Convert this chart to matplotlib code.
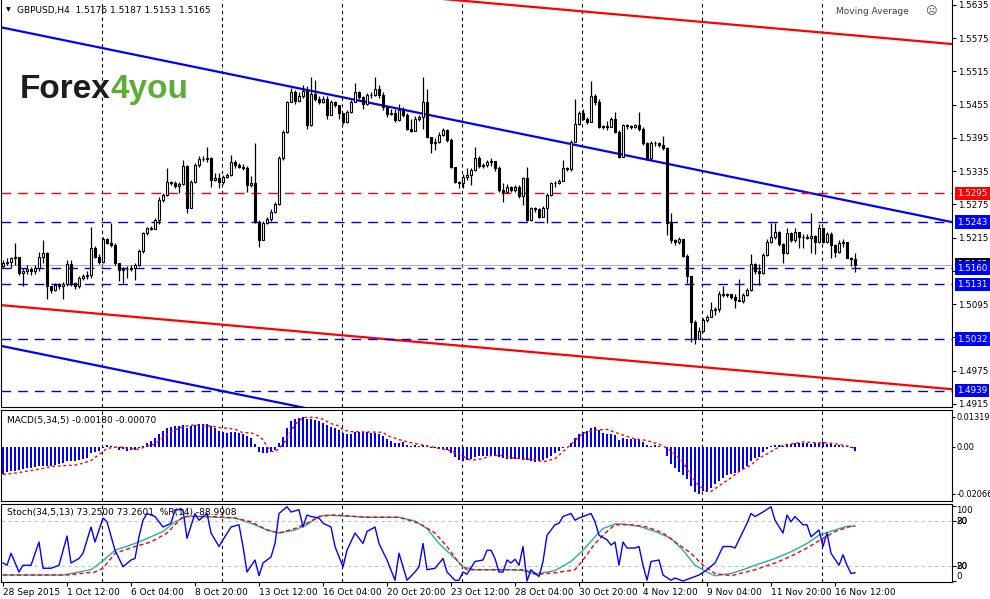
import numpy as np
import matplotlib.pyplot as plt
import matplotlib.transforms as mtransforms

plt.rcParams['font.family'] = ['DejaVu Sans']
plt.rcParams['font.size'] = 6.5

symbol_title = 'GBPUSD,H4  1.5176 1.5187 1.5153 1.5165'
macd_title = 'MACD(5,34,5) -0.00180 -0.00070'
stoch_title = 'Stoch(34,5,13) 73.2500 73.2601  %R(14) -88.9908'

# H4 candles, one per bar (open = previous close)
first_open = 1.5163
closes = [
    1.5169, 1.5172, 1.5178, 1.5181, 1.5151, 1.5154, 1.5158, 1.5155, 1.5160, 1.5180,
    1.5188, 1.5127, 1.5121, 1.5130, 1.5128, 1.5131, 1.5168, 1.5133, 1.5127, 1.5142,
    1.5145, 1.5148, 1.5197, 1.5181, 1.5172, 1.5213, 1.5206, 1.5202, 1.5169, 1.5156,
    1.5158, 1.5158, 1.5160, 1.5166, 1.5191, 1.5223, 1.5232, 1.5230, 1.5247, 1.5283,
    1.5292, 1.5316, 1.5313, 1.5308, 1.5312, 1.5345, 1.5268, 1.5316, 1.5346, 1.5357,
    1.5357, 1.5358, 1.5320, 1.5322, 1.5315, 1.5324, 1.5328, 1.5352, 1.5347, 1.5343,
    1.5341, 1.5310, 1.5313, 1.5244, 1.5211, 1.5241, 1.5248, 1.5262, 1.5276, 1.5358,
    1.5406, 1.5459, 1.5478, 1.5462, 1.5471, 1.5480, 1.5418, 1.5475, 1.5466, 1.5460,
    1.5466, 1.5436, 1.5460, 1.5455, 1.5440, 1.5423, 1.5442, 1.5460, 1.5478, 1.5469,
    1.5457, 1.5472, 1.5472, 1.5484, 1.5472, 1.5451, 1.5439, 1.5440, 1.5427, 1.5445,
    1.5437, 1.5412, 1.5408, 1.5430, 1.5433, 1.5460, 1.5397, 1.5385, 1.5388, 1.5400,
    1.5409, 1.5391, 1.5343, 1.5316, 1.5313, 1.5325, 1.5328, 1.5337, 1.5358, 1.5345,
    1.5346, 1.5352, 1.5354, 1.5340, 1.5301, 1.5298, 1.5307, 1.5301, 1.5307, 1.5290,
    1.5322, 1.5247, 1.5268, 1.5266, 1.5253, 1.5268, 1.5292, 1.5313, 1.5314, 1.5318,
    1.5340, 1.5339, 1.5388, 1.5421, 1.5440, 1.5430, 1.5423, 1.5470, 1.5460, 1.5415,
    1.5416, 1.5415, 1.5430, 1.5406, 1.5361, 1.5418, 1.5416, 1.5415, 1.5418, 1.5412,
    1.5385, 1.5359, 1.5385, 1.5386, 1.5382, 1.5376, 1.5241, 1.5211, 1.5207, 1.5213,
    1.5182, 1.5145, 1.5062, 1.5033, 1.5047, 1.5066, 1.5072, 1.5084, 1.5086, 1.5114,
    1.5111, 1.5113, 1.5108, 1.5102, 1.5100, 1.5111, 1.5120, 1.5167, 1.5155, 1.5152,
    1.5184, 1.5208, 1.5217, 1.5226, 1.5203, 1.5187, 1.5224, 1.5211, 1.5226, 1.5217,
    1.5216, 1.5214, 1.5218, 1.5208, 1.5233, 1.5208, 1.5222, 1.5202, 1.5189, 1.5205,
    1.5207, 1.5179, 1.5176, 1.5165,
]
highs = [
    1.5175, 1.5178, 1.5181, 1.5205, 1.5181, 1.5160, 1.5165, 1.5162, 1.5166, 1.5190,
    1.5211, 1.5190, 1.5128, 1.5133, 1.5133, 1.5135, 1.5175, 1.5175, 1.5135, 1.5145,
    1.5150, 1.5155, 1.5235, 1.5200, 1.5185, 1.5216, 1.5215, 1.5241, 1.5205, 1.5170,
    1.5162, 1.5163, 1.5165, 1.5170, 1.5195, 1.5226, 1.5235, 1.5236, 1.5250, 1.5288,
    1.5296, 1.5340, 1.5318, 1.5318, 1.5316, 1.5355, 1.5346, 1.5320, 1.5350, 1.5362,
    1.5362, 1.5379, 1.5360, 1.5332, 1.5332, 1.5328, 1.5332, 1.5364, 1.5356, 1.5350,
    1.5348, 1.5345, 1.5326, 1.5385, 1.5247, 1.5245, 1.5252, 1.5266, 1.5280, 1.5362,
    1.5410, 1.5462, 1.5485, 1.5482, 1.5478, 1.5490, 1.5488, 1.5505, 1.5500, 1.5470,
    1.5470, 1.5470, 1.5463, 1.5462, 1.5455, 1.5440, 1.5446, 1.5463, 1.5494, 1.5480,
    1.5470, 1.5476, 1.5478, 1.5505, 1.5490, 1.5478, 1.5452, 1.5448, 1.5448, 1.5457,
    1.5450, 1.5440, 1.5430, 1.5434, 1.5436, 1.5505, 1.5484, 1.5397, 1.5395, 1.5405,
    1.5413, 1.5412, 1.5395, 1.5343, 1.5318, 1.5330, 1.5340, 1.5341, 1.5379, 1.5362,
    1.5350, 1.5355, 1.5358, 1.5354, 1.5345, 1.5313, 1.5311, 1.5309, 1.5310, 1.5310,
    1.5325, 1.5343, 1.5270, 1.5270, 1.5268, 1.5272, 1.5296, 1.5316, 1.5318, 1.5321,
    1.5355, 1.5343, 1.5392, 1.5465, 1.5444, 1.5448, 1.5432, 1.5497, 1.5475, 1.5465,
    1.5419, 1.5425, 1.5433, 1.5442, 1.5410, 1.5421, 1.5420, 1.5419, 1.5421, 1.5442,
    1.5414, 1.5388, 1.5390, 1.5390, 1.5387, 1.5398, 1.5378, 1.5260, 1.5213, 1.5216,
    1.5213, 1.5185, 1.5145, 1.5066, 1.5053, 1.5070, 1.5076, 1.5099, 1.5090, 1.5118,
    1.5127, 1.5116, 1.5114, 1.5113, 1.5141, 1.5115, 1.5124, 1.5185, 1.5170, 1.5168,
    1.5188, 1.5212, 1.5242, 1.5242, 1.5227, 1.5205, 1.5232, 1.5226, 1.5232, 1.5226,
    1.5221, 1.5222, 1.5260, 1.5220, 1.5240, 1.5232, 1.5226, 1.5225, 1.5203, 1.5210,
    1.5212, 1.5200, 1.5180, 1.5187,
]
lows = [
    1.5160, 1.5165, 1.5160, 1.5165, 1.5148, 1.5127, 1.5150, 1.5148, 1.5150, 1.5155,
    1.5170, 1.5105, 1.5115, 1.5118, 1.5122, 1.5105, 1.5128, 1.5128, 1.5122, 1.5125,
    1.5138, 1.5140, 1.5143, 1.5178, 1.5168, 1.5170, 1.5203, 1.5198, 1.5166, 1.5136,
    1.5133, 1.5142, 1.5155, 1.5139, 1.5163, 1.5188, 1.5220, 1.5228, 1.5232, 1.5240,
    1.5280, 1.5290, 1.5310, 1.5305, 1.5295, 1.5310, 1.5259, 1.5268, 1.5314, 1.5343,
    1.5354, 1.5352, 1.5307, 1.5318, 1.5305, 1.5312, 1.5322, 1.5326, 1.5340, 1.5340,
    1.5338, 1.5298, 1.5306, 1.5242, 1.5198, 1.5210, 1.5240, 1.5246, 1.5260, 1.5274,
    1.5355, 1.5404, 1.5462, 1.5456, 1.5460, 1.5468, 1.5412, 1.5417, 1.5462, 1.5456,
    1.5458, 1.5430, 1.5438, 1.5450, 1.5430, 1.5420, 1.5422, 1.5440, 1.5460, 1.5465,
    1.5448, 1.5455, 1.5468, 1.5470, 1.5468, 1.5446, 1.5432, 1.5436, 1.5424, 1.5425,
    1.5432, 1.5410, 1.5405, 1.5410, 1.5425, 1.5412, 1.5395, 1.5367, 1.5373, 1.5385,
    1.5398, 1.5388, 1.5340, 1.5314, 1.5304, 1.5304, 1.5320, 1.5310, 1.5335, 1.5340,
    1.5340, 1.5343, 1.5345, 1.5336, 1.5298, 1.5280, 1.5296, 1.5298, 1.5298, 1.5286,
    1.5274, 1.5245, 1.5246, 1.5262, 1.5250, 1.5252, 1.5241, 1.5290, 1.5307, 1.5312,
    1.5318, 1.5335, 1.5336, 1.5387, 1.5418, 1.5428, 1.5420, 1.5423, 1.5455, 1.5413,
    1.5412, 1.5410, 1.5415, 1.5404, 1.5359, 1.5360, 1.5412, 1.5411, 1.5413, 1.5408,
    1.5383, 1.5356, 1.5356, 1.5380, 1.5378, 1.5374, 1.5220, 1.5205, 1.5202, 1.5204,
    1.5180, 1.5133, 1.5027, 1.5024, 1.5033, 1.5045, 1.5062, 1.5072, 1.5075, 1.5080,
    1.5108, 1.5108, 1.5104, 1.5088, 1.5100, 1.5097, 1.5110, 1.5118, 1.5150, 1.5130,
    1.5150, 1.5182, 1.5205, 1.5213, 1.5200, 1.5170, 1.5185, 1.5208, 1.5208, 1.5196,
    1.5196, 1.5212, 1.5187, 1.5185, 1.5206, 1.5205, 1.5206, 1.5178, 1.5180, 1.5188,
    1.5198, 1.5178, 1.5163, 1.5153,
]

# horizontal levels and trend lines (bar, price anchors)
level_prices = [1.5295, 1.5243, 1.5160, 1.5131, 1.5032, 1.4939]
level_colors = ['#FF0000', '#0000DD', '#0000DD', '#0000DD', '#0000DD', '#0000DD']
label_colors = ['#FF0000', '#0000FF', '#0000FF', '#0000FF', '#0000FF', '#0000FF']
bid_price = 1.5165
blue_upper = [(0, 1.5594), (213, 1.5279)]
blue_lower = [(0, 1.5019), (213, 1.4705)]
red_upper = [(0, 1.5716), (213, 1.5580)]
red_lower = [(0, 1.5093), (213, 1.4957)]

# MACD(5,34,5)
macd_hist = [
    -0.0122, -0.0111, -0.0106, -0.0106, -0.0102, -0.0099, -0.0096, -0.0096, -0.0091, -0.0086,
    -0.0084, -0.0086, -0.0084, -0.0081, -0.0078, -0.0071, -0.0061, -0.0065, -0.0062, -0.0058,
    -0.0054, -0.0048, -0.0030, -0.0023, -0.0020, -0.0004, 0.0007, 0.0004, -0.0004, -0.0015,
    -0.0010, -0.0020, -0.0017, -0.0014, -0.0007, 0.0004, 0.0015, 0.0026, 0.0038, 0.0054,
    0.0068, 0.0081, 0.0086, 0.0089, 0.0089, 0.0096, 0.0084, 0.0092, 0.0096, 0.0099,
    0.0099, 0.0099, 0.0092, 0.0084, 0.0068, 0.0065, 0.0061, 0.0065, 0.0065, 0.0059,
    0.0057, 0.0045, 0.0038, 0.0010, -0.0023, -0.0030, -0.0026, -0.0023, -0.0015, 0.0015,
    0.0041, 0.0084, 0.0113, 0.0122, 0.0126, 0.0132, 0.0122, 0.0122, 0.0117, 0.0113,
    0.0105, 0.0096, 0.0087, 0.0083, 0.0073, 0.0059, 0.0055, 0.0057, 0.0063, 0.0063,
    0.0063, 0.0063, 0.0060, 0.0060, 0.0055, 0.0048, 0.0034, 0.0026, 0.0018, 0.0018,
    0.0021, 0.0007, 0.0003, 0.0007, 0.0001, 0.0009, 0.0001, -0.0008, -0.0008, -0.0011,
    -0.0011, -0.0015, -0.0029, -0.0046, -0.0060, -0.0063, -0.0057, -0.0054, -0.0046, -0.0043,
    -0.0039, -0.0039, -0.0037, -0.0039, -0.0046, -0.0049, -0.0054, -0.0054, -0.0054, -0.0054,
    -0.0057, -0.0060, -0.0063, -0.0068, -0.0063, -0.0057, -0.0049, -0.0039, -0.0029, -0.0018,
    -0.0007, -0.0002, 0.0014, 0.0040, 0.0055, 0.0066, 0.0069, 0.0080, 0.0086, 0.0073,
    0.0060, 0.0055, 0.0055, 0.0049, 0.0031, 0.0038, 0.0035, 0.0032, 0.0032, 0.0032,
    0.0021, 0.0007, 0.0004, 0.0009, 0.0001, -0.0001, -0.0039, -0.0077, -0.0096, -0.0110,
    -0.0124, -0.0142, -0.0173, -0.0198, -0.0207, -0.0194, -0.0198, -0.0184, -0.0165, -0.0151,
    -0.0137, -0.0124, -0.0119, -0.0114, -0.0110, -0.0100, -0.0086, -0.0063, -0.0049, -0.0046,
    -0.0025, -0.0011, 0.0001, 0.0009, 0.0007, 0.0001, 0.0009, 0.0012, 0.0017, 0.0017,
    0.0017, 0.0017, 0.0012, 0.0017, 0.0017, 0.0021, 0.0012, 0.0012, 0.0007, 0.0007,
    0.0002, 0.0001, -0.0004, -0.0018,
]
macd_sig_bar = [0, 2, 5, 8, 10, 12, 15, 18, 20, 22, 24, 26, 28, 30, 32, 34, 36, 38, 40, 42,
                44, 46, 48, 50, 52, 54, 56, 58, 60, 62, 64, 65, 66, 67, 68, 69, 70, 71, 72, 73,
                74, 75, 76, 78, 80, 82, 84, 85, 87, 92, 95, 96, 99, 102, 104, 107, 109, 112, 115, 117,
                120, 122, 125, 127, 130, 133, 135, 138, 140, 143, 145, 148, 151, 153, 156, 158, 161, 164, 165, 167,
                170, 172, 174, 176, 177, 179, 182, 184, 187, 189, 191, 193, 195, 198, 200, 203, 206, 208, 211, 213]
macd_sig_val = [-0.0122, -0.0119, -0.0111, -0.0102, -0.0096, -0.0087, -0.0084, -0.0081, -0.0073, -0.0061,
                -0.0035, -0.0008, -0.0002, -0.0003, -0.0008, -0.0012, 0.0003, 0.0011, 0.0038, 0.0065,
                0.0081, 0.0091, 0.0096, 0.0091, 0.0091, 0.0084, 0.0081, 0.0076, 0.0061, 0.0061,
                0.0046, 0.0030, 0.0000, -0.0020, -0.0023, -0.0008, 0.0011, 0.0038, 0.0068, 0.0096,
                0.0114, 0.0126, 0.0129, 0.0129, 0.0120, 0.0101, 0.0091, 0.0073, 0.0066, 0.0064,
                0.0063, 0.0049, 0.0031, 0.0017, 0.0010, 0.0000, -0.0008, -0.0018, -0.0043, -0.0060,
                -0.0053, -0.0039, -0.0039, -0.0049, -0.0053, -0.0057, -0.0067, -0.0053, -0.0022, 0.0027,
                0.0059, 0.0073, 0.0076, 0.0063, 0.0045, 0.0034, 0.0027, 0.0010, 0.0003, -0.0018,
                -0.0067, -0.0130, -0.0172, -0.0196, -0.0197, -0.0172, -0.0137, -0.0109, -0.0081, -0.0050,
                -0.0032, -0.0011, 0.0007, 0.0014, 0.0021, 0.0017, 0.0017, 0.0013, 0.0003, -0.0007]

# Stochastic(34,5,13) and Williams %R(14)
stoch_main_bar = [0, 15, 19, 22, 25, 28, 33, 37, 40, 43, 46, 49, 53, 58, 62, 66, 69, 73, 76, 79,
                  81, 84, 91, 99, 103, 106, 109, 113, 115, 118, 123, 127, 130, 133, 138, 142, 145, 148, 150, 153,
                  155, 159, 163, 167, 170, 173, 176, 178, 182, 185, 188, 193, 197, 201, 204, 208, 211, 213]
stoch_main_val = [8, 8, 12, 15, 27, 41, 50, 59, 66, 79, 86, 86, 85, 84, 77, 68, 64, 68, 75, 86,
                  88, 87, 85, 85, 80, 70, 50, 30, 19, 15, 15, 15, 14, 9, 14, 26, 41, 59, 70, 76,
                  76, 73, 66, 57, 41, 21, 12, 7, 10, 15, 21, 30, 39, 50, 61, 68, 73, 73.25]
stoch_sig_bar = [0, 16, 23, 25, 28, 33, 37, 41, 45, 49, 53, 58, 62, 66, 69, 73, 76, 79, 83, 91,
                 99, 104, 108, 111, 114, 116, 124, 130, 134, 138, 143, 145, 148, 151, 153, 157, 161, 165, 168, 172,
                 175, 178, 182, 185, 188, 193, 197, 201, 205, 208, 212, 213]
stoch_sig_val = [8, 8, 12, 17, 37, 46, 52, 64, 86, 86, 86, 84, 79, 68, 64, 70, 77, 86, 88, 85,
                 85, 77, 64, 46, 24, 15, 15, 15, 9, 11, 15, 28, 50, 66, 75, 75, 72, 64, 52, 37,
                 21, 10, 7, 11, 15, 24, 33, 44, 57, 66, 73, 73.26]
wpr_bar = [0, 1, 2, 4, 5, 7, 9, 10, 12, 14, 16, 17, 19, 20, 22, 23, 25, 26, 28, 30,
           32, 33, 34, 35, 36, 38, 40, 42, 43, 45, 46, 48, 49, 51, 52, 54, 55, 57, 59, 60,
           61, 63, 64, 65, 67, 68, 69, 71, 72, 74, 75, 76, 77, 79, 80, 82, 83, 85, 86, 88,
           90, 91, 93, 94, 96, 98, 99, 101, 103, 104, 105, 106, 108, 110, 111, 113, 114, 115, 116, 118,
           120, 121, 122, 123, 124, 125, 126, 127, 128, 129, 130, 131, 132, 133, 134, 135, 136, 138, 139, 140,
           142, 143, 144, 146, 147, 148, 149, 151, 152, 153, 154, 155, 156, 158, 159, 160, 161, 162, 164, 165,
           167, 168, 170, 172, 174, 176, 178, 180, 182, 183, 186, 187, 188, 190, 192, 193, 195, 196, 197, 198,
           200, 201, 202, 204, 205, 206, 207, 209, 210, 211, 212, 213]
wpr_val = [24, 21, 37, 12, 21, 21, 52, 17, 17, 21, 60, 24, 30, 37, 72, 52, 84, 79, 41, 19,
           28, 30, 59, 81, 90, 86, 72, 77, 95, 95, 57, 90, 81, 90, 64, 46, 55, 72, 75, 46,
           12, 28, 7, 24, 32, 50, 90, 99, 92, 95, 72, 88, 86, 84, 77, 72, 46, 19, 41, 64,
           50, 66, 72, 50, 28, 1, 37, 1, 12, 19, 50, 15, 17, 30, 12, 1, 1, 12, 9, 26,
           28, 41, 41, 30, 12, 12, 28, 24, 29, 21, 46, 0, 15, 10, 6, 26, 61, 75, 77, 86,
           90, 81, 84, 88, 90, 79, 61, 55, 48, 52, 21, 52, 44, 44, 46, 21, 1, 26, 28, 8,
           1, 4, 0, 4, 8, 15, 24, 46, 46, 44, 77, 90, 86, 92, 99, 81, 64, 88, 79, 86,
           75, 75, 59, 68, 46, 64, 37, 21, 35, 21, 10, 11]

date_labels = ['28 Sep 2015', '1 Oct 12:00', '6 Oct 04:00', '8 Oct 20:00', '13 Oct 12:00',
               '16 Oct 04:00', '20 Oct 20:00', '23 Oct 12:00', '28 Oct 04:00', '30 Oct 20:00',
               '4 Nov 12:00', '9 Nov 04:00', '11 Nov 20:00', '16 Nov 12:00']

W_PX, H_PX = 990, 599


def frame(top, bottom, left=1, right=952):
    return [left / W_PX, 1 - bottom / H_PX, (right - left) / W_PX, (bottom - top) / H_PX]


fig = plt.figure(figsize=(9.9, 5.99), dpi=100)
ax_p = fig.add_axes(frame(0, 407))
ax_m = fig.add_axes(frame(410, 501))
ax_s = fig.add_axes(frame(504, 582))

n = len(closes)
idx = np.arange(n)
closes = np.array(closes)
opens = np.r_[first_open, closes[:-1]]
top_wick = np.maximum(np.array(highs), np.maximum(opens, closes))
bot_wick = np.minimum(np.array(lows), np.minimum(opens, closes))
grid_x = np.arange(24.75, n, 30)

for ax in (ax_p, ax_m, ax_s):
    ax.set_xlim(-0.5, 237.25)
    for sp in ax.spines.values():
        sp.set_linewidth(0.8)
        sp.set_color('black')
    for g in grid_x:
        ax.axvline(g, color='black', lw=0.8, ls=(0, (3, 3)), zorder=1)
    ax.tick_params(axis='x', bottom=False, labelbottom=False)
    ax.yaxis.tick_right()
    ax.tick_params(axis='y', length=3, width=0.8, direction='out', pad=1.5, labelsize=6.3)
ax_p.spines['top'].set_visible(False)

# price panel
ax_p.set_ylim(1.49094, 1.56440)
price_ticks = np.arange(1.4915, 1.5640, 0.006)
ax_p.set_yticks(price_ticks)
# labels hidden behind the level boxes in the terminal are left blank
hidden = [t for t in price_ticks if min(abs(t - p) for p in level_prices) < 0.0006]
ax_p.set_yticklabels(['' if t in hidden else f'{t:.4f}' for t in price_ticks])

xs = np.array([-1.0, 240.0])
for (b0, p0), (b1, p1), col in [(blue_upper[0], blue_upper[1], '#0000FF'),
                                (blue_lower[0], blue_lower[1], '#0000FF'),
                                (red_upper[0], red_upper[1], '#FF0000'),
                                (red_lower[0], red_lower[1], '#FF0000')]:
    ys = p0 + (p1 - p0) / (b1 - b0) * (xs - b0)
    ax_p.plot(xs, ys, color=col, lw=1.6, zorder=2, solid_capstyle='butt')

for p, c in zip(level_prices, level_colors):
    ax_p.axhline(p, color=c, lw=1, ls=(0, (7, 5)), zorder=2)
ax_p.axhline(bid_price, color='#C8A8C8', lw=0.8, zorder=2)

ax_p.vlines(idx, bot_wick, top_wick, color='black', lw=0.9, zorder=3)
body_lo = np.minimum(opens, closes)
body_h = np.maximum(np.abs(closes - opens), 0.00003)
up = closes >= opens
ax_p.bar(idx[up], body_h[up], bottom=body_lo[up], width=0.5, color='white',
         edgecolor='black', linewidth=0.8, zorder=4)
ax_p.bar(idx[~up], body_h[~up], bottom=body_lo[~up], width=0.5, color='black',
         edgecolor='black', linewidth=0.8, zorder=4)

lab_tr = mtransforms.blended_transform_factory(ax_p.transAxes, ax_p.transData)
ax_p.text(1.0053, bid_price + 0.0001, f'{bid_price:.4f}', transform=lab_tr, ha='left', va='center',
          color='white', fontsize=6.3, clip_on=False, zorder=9,
          bbox=dict(boxstyle='square,pad=0.25', fc='black', ec='none'))
for p, c in zip(level_prices, label_colors):
    ax_p.text(1.0053, p, f'{p:.4f}', transform=lab_tr, ha='left', va='center', color='white',
              fontsize=6.3, clip_on=False, zorder=10,
              bbox=dict(boxstyle='square,pad=0.25', fc=c, ec='none'))

# MACD panel
ax_m.set_ylim(-0.0239, 0.0161)
ax_m.bar(idx, macd_hist, width=0.3, color='#0000FF', linewidth=0, antialiased=False, zorder=3)
ax_m.plot(macd_sig_bar, macd_sig_val, color='#FF0000', lw=1, ls=(0, (2, 2)), zorder=4)
ax_m.set_yticks([0.01319, 0.0, -0.02066])
ax_m.set_yticklabels(['0.01319', '0.00', '-0.02066'])
ax_m.tick_params(axis='y', length=2.5, pad=1, labelsize=5.9)

# Stochastic panel
ax_s.set_ylim(-1.33, 102.67)
for lv in (80, 20):
    ax_s.axhline(lv, color='#C0C0C0', lw=0.8, ls=(0, (3, 3)), zorder=1)
ax_s.plot(stoch_main_bar, stoch_main_val, color='#20B2AA', lw=1, zorder=3)
ax_s.plot(stoch_sig_bar, stoch_sig_val, color='#FF0000', lw=1, ls=(0, (3, 2)), zorder=4)
ax_s.plot(wpr_bar, wpr_val, color='#0000FF', lw=1, zorder=5)
ax_s.set_yticks([100, 80, 20, 0])
ax_s.set_yticklabels([])
s_tr = mtransforms.blended_transform_factory(ax_s.transAxes, ax_s.transData)
ax_s.text(1.0042, 100, '100', transform=s_tr, va='top', ha='left', fontsize=6.3, clip_on=False)
ax_s.text(1.0042, 0, '0', transform=s_tr, va='bottom', ha='left', fontsize=6.3, clip_on=False)
for lv, other in ((80, '20'), (20, '80')):
    ax_s.text(1.0042, lv, str(lv), transform=s_tr, va='center', ha='left', fontsize=6.3, clip_on=False)
    ax_s.text(1.0042, lv, other, transform=s_tr, va='center', ha='left', fontsize=6.3, clip_on=False)

ax_s.tick_params(axis='x', bottom=True, labelbottom=True, length=3, width=0.8,
                 direction='out', pad=1.5, labelsize=6.5)
ax_s.set_xticks(np.arange(0, n, 16))
ax_s.set_xticklabels(date_labels, ha='left')

# header texts
fig.text(6 / W_PX, 1 - 10 / H_PX, '\u25BC', fontsize=4.5, va='center')
fig.text(17 / W_PX, 1 - 10 / H_PX, symbol_title, va='center')
fig.text(836 / W_PX, 1 - 11 / H_PX, 'Moving Average', va='center', color='#404040')
fig.text(925 / W_PX, 1 - 11 / H_PX, '\u2639', va='center', color='#404040', fontsize=8)
fig.text(7 / W_PX, 1 - 420 / H_PX, macd_title, va='center')
fig.text(7 / W_PX, 1 - 513 / H_PX, stoch_title, va='center')

# logo
t1 = fig.text(20 / W_PX, 1 - 98 / H_PX, 'Forex', fontsize=24, weight='bold',
              family='Liberation Sans', color='#1d1d1b', va='baseline')
ax_p.annotate('4you', xy=(1, 0), xycoords=t1, va='bottom', ha='left', fontsize=24,
              weight='bold', family='Liberation Sans', color='#5BAE32')

fig.savefig('out.png', dpi=100, facecolor='white')
